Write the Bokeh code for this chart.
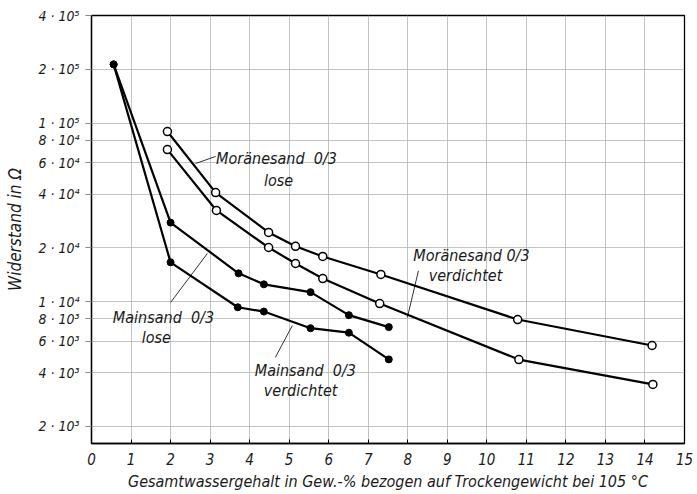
from bokeh.plotting import figure
from bokeh.models import Range1d, FixedTicker, ColumnDataSource
from bokeh.core.properties import value
from bokeh.embed import file_html
from bokeh.resources import INLINE

FONT = "DejaVu Sans Condensed"

# ---- data ----
mainsand_lose_x = [0.56, 2.0, 3.72, 4.36, 5.54, 6.51, 7.52]
mainsand_lose_y = [2.13e5, 2.77e4, 1.44e4, 1.25e4, 1.13e4, 8.4e3, 7.2e3]

mainsand_verd_x = [0.56, 2.0, 3.70, 4.36, 5.54, 6.51, 7.52]
mainsand_verd_y = [2.13e5, 1.66e4, 9.3e3, 8.8e3, 7.1e3, 6.7e3, 4.75e3]

moraene_lose_x = [1.92, 3.14, 4.48, 5.16, 5.85, 7.32, 10.78, 14.18]
moraene_lose_y = [8.96e4, 4.08e4, 2.44e4, 2.04e4, 1.79e4, 1.42e4, 7.94e3, 5.68e3]

moraene_verd_x = [1.92, 3.16, 4.48, 5.16, 5.85, 7.29, 10.81, 14.2]
moraene_verd_y = [7.1e4, 3.24e4, 2.01e4, 1.635e4, 1.347e4, 9.76e3, 4.74e3, 3.44e3]

x_ticks = list(range(0, 16))
y_ticks = [2e3, 4e3, 6e3, 8e3, 1e4, 2e4, 4e4, 6e4, 8e4, 1e5, 2e5, 4e5]
y_tick_labels = ["2 · 10³", "4 · 10³", "6 · 10³", "8 · 10³", "1 · 10⁴", "2 · 10⁴",
                 "4 · 10⁴", "6 · 10⁴", "8 · 10⁴", "1 · 10⁵", "2 · 10⁵", "4 · 10⁵"]

# annotation texts and leader lines
label_text = ["Moränesand\u00a0\u00a00/3", "lose", "Moränesand\u00a00/3", "verdichtet",
              "Mainsand\u00a0\u00a00/3", "lose", "Mainsand\u00a0\u00a00/3", "verdichtet"]
label_x = [4.68, 4.73, 9.61, 9.46, 1.82, 1.64, 5.41, 5.29]
label_y = [6.33e4, 4.77e4, 1.81e4, 1.40e4, 8.15e3, 6.3e3, 4.12e3, 3.18e3]

leader_xs = [[2.63, 3.14], [8.27, 7.99], [2.0, 2.93], [4.65, 5.08]]
leader_ys = [[5.93e4, 6.5e4], [1.49e4, 8.15e3], [9.89e3, 1.86e4], [4.87e3, 7.35e3]]

p = figure(width=697, height=494, y_axis_type="log",
           x_range=Range1d(0, 15), y_range=Range1d(1606, 4e5),
           output_backend="svg", toolbar_location=None,
           min_border_left=91, min_border_right=13,
           min_border_top=15, min_border_bottom=51)

p.outline_line_color = "black"
p.outline_line_width = 1.3
p.background_fill_color = "white"
p.border_fill_color = "white"

# grid
p.xgrid.ticker = FixedTicker(ticks=x_ticks)
p.ygrid.ticker = FixedTicker(ticks=y_ticks)
for g in (p.xgrid, p.ygrid):
    g.grid_line_color = "#b4b4b4"
    g.grid_line_width = 0.8
    g.minor_grid_line_color = None

# x axis
xa = p.xaxis[0]
xa.ticker = FixedTicker(ticks=x_ticks)
xa.axis_line_color = "black"
xa.axis_line_width = 1.3
xa.major_tick_in = 4
xa.major_tick_out = 0
xa.minor_tick_line_color = None
xa.major_label_standoff = 9
xa.major_label_text_font = FONT
xa.major_label_text_font_style = "italic"
xa.major_label_text_font_size = "15px"
xa.major_label_text_color = "#1a1a1a"
xa.axis_label = "Gesamtwassergehalt in Gew.-% bezogen auf Trockengewicht bei 105 °C"
xa.axis_label_text_font = FONT
xa.axis_label_text_font_style = "italic"
xa.axis_label_text_font_size = "16px"
xa.axis_label_text_color = "#1a1a1a"
xa.axis_label_standoff = 4

# y axis
ya = p.yaxis[0]
ya.ticker = FixedTicker(ticks=y_ticks)
ya.major_label_overrides = {t: l for t, l in zip(y_ticks, y_tick_labels)}
ya.axis_line_color = "black"
ya.axis_line_width = 1.3
ya.major_tick_in = 0
ya.major_tick_out = 6
ya.major_tick_line_color = "#888888"
ya.minor_tick_line_color = None
ya.major_label_standoff = 6
ya.major_label_text_font = FONT
ya.major_label_text_font_style = "italic"
ya.major_label_text_font_size = "14px"
ya.major_label_text_color = "#1a1a1a"
ya.axis_label = "Widerstand in Ω"
ya.axis_label_text_font = FONT
ya.axis_label_text_font_style = "italic"
ya.axis_label_text_font_size = "17px"
ya.axis_label_text_color = "#1a1a1a"
ya.axis_label_standoff = 10

# leader lines
p.multi_line(xs=leader_xs, ys=leader_ys, line_color="#333333", line_width=1)

# series lines
for xs, ys in [(moraene_lose_x, moraene_lose_y), (moraene_verd_x, moraene_verd_y),
               (mainsand_lose_x, mainsand_lose_y), (mainsand_verd_x, mainsand_verd_y)]:
    p.line(xs, ys, line_color="black", line_width=2.2)

# markers
for xs, ys in [(moraene_lose_x, moraene_lose_y), (moraene_verd_x, moraene_verd_y)]:
    p.scatter(xs, ys, marker="circle", size=8, fill_color="white",
              line_color="black", line_width=1.5)
for xs, ys in [(mainsand_lose_x, mainsand_lose_y), (mainsand_verd_x, mainsand_verd_y)]:
    p.scatter(xs, ys, marker="circle", size=7, fill_color="black",
              line_color="black", line_width=1)

# annotation labels
src = ColumnDataSource(dict(x=label_x, y=label_y, t=label_text))
p.text(x="x", y="y", text="t", source=src, text_align="center",
       text_baseline="middle", text_font=value(FONT), text_font_style="italic",
       text_font_size="16px", text_color="#1a1a1a")

open("out.html", "w").write(file_html(p, INLINE))
